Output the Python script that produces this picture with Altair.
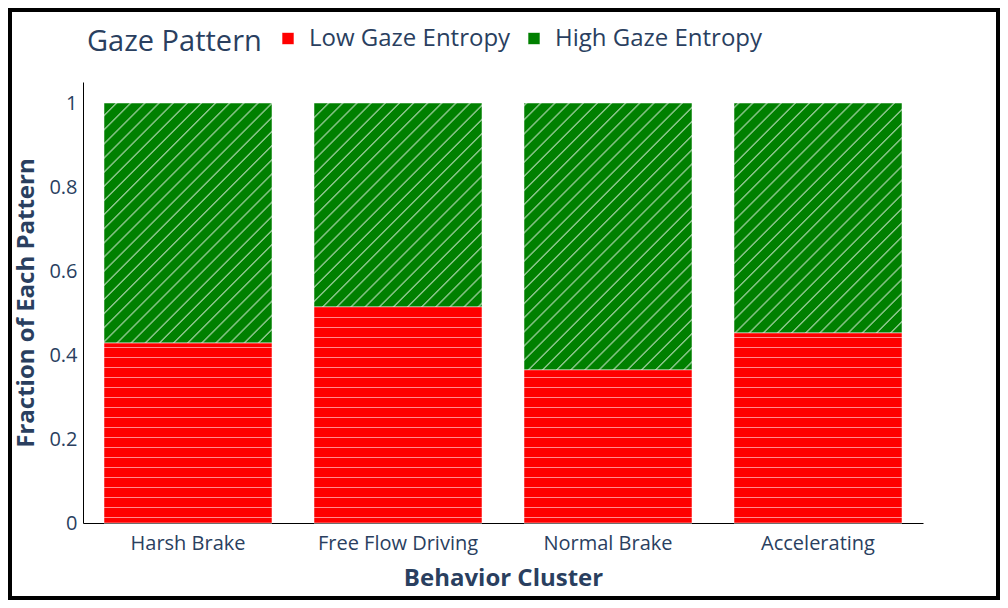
import altair as alt
import pandas as pd

# ---------------- data ----------------
clusters = ["Harsh Brake", "Free Flow Driving", "Normal Brake", "Accelerating"]
patterns = ["Low Gaze Entropy", "High Gaze Entropy"]
low_frac = [0.429, 0.515, 0.365, 0.453]
high_frac = [0.571, 0.485, 0.635, 0.547]
colors = ["#ff0000", "#008000"]
stripe_colors = ["#ff8c8c", "#80c080"]
y_ticks = [0, 0.2, 0.4, 0.6, 0.8, 1]

rows = []
for c, lo, hi in zip(clusters, low_frac, high_frac):
    rows.append({"cluster": c, "pattern": patterns[0], "value": lo, "order": 0})
    rows.append({"cluster": c, "pattern": patterns[1], "value": hi, "order": 1})
df = pd.DataFrame(rows)

# ---------------- layout ----------------
W, H = 840, 441
PAD_L, PAD_T = 75, 74
TOTAL_W, TOTAL_H = 992, 592
PAD_R = TOTAL_W - PAD_L - W
PAD_B = TOTAL_H - PAD_T - H
Y_MAX = 1.05
PPU = H / Y_MAX            # pixels per unit on y
STEP = W / len(clusters)   # band step (paddingInner .2, paddingOuter .1)
BW = STEP * 0.8            # bar width
FONT = "Open Sans"
TXT = "#2a3f5f"


def hstripe_gradient(top, bottom, base, line):
    """vertical gradient giving 1px horizontal lines every 10px (plot coords)"""
    h = bottom - top
    stops = [alt.GradientStop(offset=0, color=base)]
    s = 5
    while s < bottom:
        if s >= top + 1 and s + 1 <= bottom - 0.5:
            a = (s - top) / h
            b = (s + 1 - top) / h
            stops += [alt.GradientStop(offset=a, color=base),
                      alt.GradientStop(offset=a, color=line),
                      alt.GradientStop(offset=b, color=line),
                      alt.GradientStop(offset=b, color=base)]
        s += 10
    stops.append(alt.GradientStop(offset=1, color=base))
    return alt.Gradient(gradient="linear", x1=0, y1=0, x2=0, y2=1, stops=stops)


def dstripe_gradient(left, top, w, h, base, line):
    """diagonal '/' lines, period 10px, using bbox-relative gradient"""
    sc = (w + h) / (w * w + h * h)
    total = w + h
    c0 = left + top
    P = 14.14
    stops = [alt.GradientStop(offset=0, color=base)]
    c = 11.6
    while c < c0 + total + P:
        lo, m1, m2, hi = c - 1.0, c, c + 1.2, c + 2.2
        if lo >= c0 and hi <= c0 + total:
            for v, col in ((lo, base), (m1, line), (m2, line), (hi, base)):
                stops.append(alt.GradientStop(offset=(v - c0) / total, color=col))
        c += P
    stops.append(alt.GradientStop(offset=1, color=base))
    return alt.Gradient(gradient="linear", x1=0, y1=0, x2=sc * w, y2=sc * h, stops=stops)


x_enc = alt.X(
    "cluster:N",
    sort=clusters,
    scale=alt.Scale(paddingInner=0.2, paddingOuter=0.1),
    axis=alt.Axis(
        title="Behavior Cluster", labelAngle=0, labelFont=FONT, labelFontSize=20,
        labelColor=TXT, labelPadding=10, ticks=False, tickSize=0,
        domainColor="black", domainWidth=1, grid=False,
        titleFont=FONT, titleFontSize=24, titleFontWeight="bold", titleColor=TXT,
        titleY=62, titleBaseline="alphabetic",
    ),
)
y_enc = alt.Y(
    "y0:Q",
    scale=alt.Scale(domain=[0, Y_MAX], nice=False, zero=True),
    axis=alt.Axis(
        title="Fraction of Each Pattern", values=y_ticks, format="~g",
        labelFont=FONT, labelFontSize=20, labelColor=TXT, labelPadding=6,
        ticks=False, tickSize=0, grid=False, domainColor="black", domainWidth=1,
        titleFont=FONT, titleFontSize=24, titleFontWeight="bold", titleColor=TXT,
        titleX=-50, titleBaseline="alphabetic",
    ),
)

base = alt.Chart(df).transform_stack(
    stack="value", groupby=["cluster"], as_=["y0", "y1"],
    sort=[alt.SortField("order", order="ascending")],
)

solid = base.mark_bar(stroke="white", strokeWidth=0.5).encode(
    x=x_enc,
    y=y_enc,
    y2="y1:Q",
    color=alt.Color(
        "pattern:N",
        scale=alt.Scale(domain=patterns, range=colors),
        legend=alt.Legend(
            orient="none", legendX=4, legendY=-55.5, direction="horizontal",
            title="Gaze Pattern", titleOrient="left", titleFont=FONT,
            titleFontSize=29, titleFontWeight="normal", titleColor=TXT,
            titleAnchor="end", titleBaseline="alphabetic",
            titlePadding=14, labelFont=FONT, labelFontSize=24, labelColor=TXT,
            symbolType="square", symbolSize=144, symbolStrokeWidth=1,
            symbolStrokeColor="rgba(255,255,255,0.6)", labelOffset=9,
            columnPadding=11, padding=0, offset=0, labelLimit=400,
        ),
    ),
    order=alt.Order("order:Q"),
)

layers = [solid]
for i, c in enumerate(clusters):
    left = STEP * 0.1 + STEP * i
    lo = low_frac[i]
    # low part (horizontal stripes)
    top_lo = H - lo * PPU
    g_lo = hstripe_gradient(top_lo, H, colors[0], stripe_colors[0])
    layers.append(
        base.transform_filter(
            (alt.datum.cluster == c) & (alt.datum.pattern == patterns[0])
        ).mark_bar(fill=g_lo, stroke="white", strokeWidth=0.5).encode(
            x=x_enc, y=y_enc, y2="y1:Q"
        )
    )
    # high part (diagonal stripes)
    top_hi = H - (lo + high_frac[i]) * PPU
    g_hi = dstripe_gradient(left, top_hi, BW, top_lo - top_hi, colors[1], stripe_colors[1])
    layers.append(
        base.transform_filter(
            (alt.datum.cluster == c) & (alt.datum.pattern == patterns[1])
        ).mark_bar(fill=g_hi, stroke="white", strokeWidth=0.5).encode(
            x=x_enc, y=y_enc, y2="y1:Q"
        )
    )

frame = alt.Chart(pd.DataFrame({"k": [0]})).mark_rect(
    fill="transparent", stroke="black", strokeWidth=4, clip=False
).encode(
    x=alt.value(-PAD_L + 2), x2=alt.value(W + PAD_R - 2),
    y=alt.value(-PAD_T + 2), y2=alt.value(H + PAD_B - 2),
)
layers.append(frame)

chart = alt.layer(*layers).properties(
    width=W, height=H,
    autosize=alt.AutoSizeParams(type="none"),
    padding={"left": PAD_L, "top": PAD_T, "right": PAD_R, "bottom": PAD_B},
    background="white",
).configure_view(stroke=None)

chart.save("out.html", embed_options={"renderer": "svg", "actions": False})
